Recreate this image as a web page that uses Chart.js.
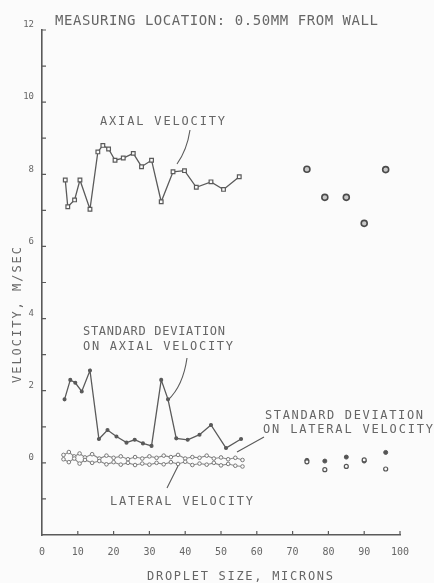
<!DOCTYPE html>
<html>
<head>
<meta charset="utf-8">
<script src="https://cdn.jsdelivr.net/npm/chart.js@4.4.0/dist/chart.umd.min.js"></script>
<style>
  html, body { margin: 0; padding: 0; background: #fbfbfb; }
  canvas { display: block; }
</style>
</head>
<body>
<canvas id="myChart" width="434" height="583"></canvas>
<script>
// values (droplet size in microns, velocity in m/sec)
const axialSizes = [6.5, 7.2, 9.1, 10.6, 13.4, 15.6, 17.0, 18.6, 20.4, 22.7, 25.5, 27.8, 30.6, 33.3, 36.6, 39.8, 43.1, 47.2, 50.7, 55.1]
const axialVel = [7.84, 7.10, 7.29, 7.84, 7.03, 8.62, 8.80, 8.70, 8.39, 8.45, 8.58, 8.21, 8.39, 7.24, 8.07, 8.10, 7.64, 7.79, 7.58, 7.93]

const stdAxialSizes = [6.3, 7.9, 9.3, 11.1, 13.4, 15.9, 18.3, 20.8, 23.6, 25.9, 28.2, 30.6, 33.3, 35.2, 37.5, 40.7, 44.0, 47.2, 51.4, 55.6]
const stdAxial = [1.76, 2.30, 2.22, 1.98, 2.56, 0.66, 0.91, 0.73, 0.56, 0.64, 0.54, 0.47, 2.30, 1.76, 0.68, 0.64, 0.78, 1.05, 0.41, 0.66]

const lateralSizes = [6, 7.5, 9, 10.5, 12, 14, 16, 18, 20, 22, 24, 26, 28, 30, 32, 34, 36, 38, 40, 42, 44, 46, 48, 50, 52, 54, 56]
const lateralVel = [0.10, 0.02, 0.12, -0.02, 0.08, 0.00, 0.05, -0.04, 0.02, -0.05, 0.00, -0.06, -0.02, -0.05, 0.00, -0.04, 0.02, -0.03, 0.03, -0.06, -0.02, -0.05, 0.00, -0.07, -0.03, -0.08, -0.10]
const stdLateral = [0.22, 0.30, 0.18, 0.26, 0.15, 0.24, 0.12, 0.20, 0.14, 0.18, 0.10, 0.16, 0.12, 0.18, 0.14, 0.20, 0.16, 0.22, 0.12, 0.16, 0.14, 0.20, 0.12, 0.15, 0.10, 0.14, 0.08]

// the separate points beyond 70 microns
const rightSizes = [74, 79, 85, 90, 96]
const rightAxial = [8.14, 7.36, 7.36, 6.64, 8.13]
const rightStdLateral = [0.07, 0.05, 0.16, 0.05, 0.29]
const rightLateral = [0.03, -0.19, -0.10, 0.08, -0.17]

const xTicks = [0, 10, 20, 30, 40, 50, 60, 70, 80, 90, 100]
const yLabels = [0, 2, 4, 6, 8, 10, 12]

const ink = "#5a5a5a"
const textInk = "#666666"
const mono = "'DejaVu Sans Mono', monospace"

const pts = (xs, ys) => xs.map((x, i) => ({ x: x, y: ys[i] }))

// draw a string stretched over a given width, like the plotter lettering
function spaced(ctx, text, x, y, width) {
  const w = ctx.measureText(text).width
  const sp = (width - w) / (text.length - 1)
  let cx = x
  for (const ch of text) {
    ctx.fillText(ch, cx, y)
    cx += ctx.measureText(ch).width + sp
  }
}

const notes = [
  ["MEASURING LOCATION: 0.50MM FROM WALL", 55, 21, 323, 14],
  ["AXIAL VELOCITY", 100, 122, 125, 12],
  ["STANDARD DEVIATION", 83, 332, 142, 12],
  ["ON AXIAL VELOCITY", 83, 347, 150, 12],
  ["STANDARD DEVIATION", 265, 416, 158, 12],
  ["ON LATERAL VELOCITY", 263, 430, 170, 12],
  ["LATERAL VELOCITY", 110, 502, 143, 12],
  ["DROPLET SIZE, MICRONS", 147, 577, 186, 12],
]

const decor = {
  id: "decor",
  afterDraw(chart) {
    const ctx = chart.ctx
    const xs = chart.scales.x
    const ys = chart.scales.y
    const a = chart.chartArea
    ctx.save()
    // inward tick marks
    ctx.strokeStyle = ink
    ctx.lineWidth = 1.2
    ctx.beginPath()
    for (let v = -1; v <= 12; v++) {
      const py = ys.getPixelForValue(v)
      ctx.moveTo(a.left, py)
      ctx.lineTo(a.left + 4, py)
    }
    for (let v = 10; v <= 100; v += 10) {
      const px = xs.getPixelForValue(v)
      ctx.moveTo(px, a.bottom)
      ctx.lineTo(px, a.bottom - 4)
    }
    ctx.stroke()

    // leader lines
    ctx.lineWidth = 1.1
    ctx.beginPath()
    ctx.moveTo(190, 130); ctx.quadraticCurveTo(187, 150, 177, 164)
    ctx.moveTo(187, 358); ctx.quadraticCurveTo(183, 386, 168, 400)
    ctx.moveTo(264, 437); ctx.lineTo(237, 452)
    ctx.moveTo(178, 466); ctx.lineTo(167, 488)
    ctx.stroke()

    // lettering
    ctx.fillStyle = textInk
    ctx.textBaseline = "middle"
    ctx.textAlign = "left"
    for (const n of notes) {
      ctx.font = n[4] + "px " + mono
      spaced(ctx, n[0], n[1], n[2], n[3])
    }
    ctx.translate(18, 383)
    ctx.rotate(-Math.PI / 2)
    ctx.font = "12px " + mono
    spaced(ctx, "VELOCITY, M/SEC", 0, 0, 136)
    ctx.restore()
  },
}

const ctx = document.getElementById("myChart").getContext("2d")
const myChart = new Chart(ctx, {
  type: "scatter",
  data: {
    datasets: [
      {
        label: "Axial velocity",
        data: pts(axialSizes, axialVel),
        showLine: true,
        borderColor: ink,
        borderWidth: 1.3,
        pointStyle: "rect",
        pointRadius: 2.6,
        pointBackgroundColor: "#fbfbfb",
        pointBorderColor: ink,
        pointBorderWidth: 1.2,
      },
      {
        label: "Axial velocity (large drops)",
        data: pts(rightSizes, rightAxial),
        showLine: false,
        pointStyle: "circle",
        pointRadius: 3,
        pointBackgroundColor: "#c8c8c8",
        pointBorderColor: "#4a4a4a",
        pointBorderWidth: 1.6,
      },
      {
        label: "Standard deviation on axial velocity",
        data: pts(stdAxialSizes, stdAxial),
        showLine: true,
        borderColor: ink,
        borderWidth: 1.3,
        pointRadius: 1.4,
        pointBackgroundColor: ink,
        pointBorderColor: ink,
      },
      {
        label: "Lateral velocity",
        data: pts(lateralSizes, lateralVel),
        showLine: true,
        borderColor: "#8a8a8a",
        borderWidth: 1.1,
        pointRadius: 1.8,
        pointBackgroundColor: "#fbfbfb",
        pointBorderColor: "#777",
        pointBorderWidth: 1,
      },
      {
        label: "Standard deviation on lateral velocity",
        data: pts(lateralSizes, stdLateral),
        showLine: true,
        borderColor: "#8a8a8a",
        borderWidth: 1.1,
        pointRadius: 1.8,
        pointBackgroundColor: "#fbfbfb",
        pointBorderColor: "#777",
        pointBorderWidth: 1,
      },
      {
        label: "Lateral velocity (large drops)",
        data: pts(rightSizes, rightLateral),
        showLine: false,
        pointRadius: 2,
        pointBackgroundColor: "#fbfbfb",
        pointBorderColor: "#555",
        pointBorderWidth: 1.2,
      },
      {
        label: "Std dev lateral (large drops)",
        data: pts(rightSizes, rightStdLateral),
        showLine: false,
        pointRadius: 2,
        pointBackgroundColor: "#555",
        pointBorderColor: "#555",
        pointBorderWidth: 1,
      },
    ],
  },
  options: {
    responsive: false,
    animation: false,
    devicePixelRatio: 1,
    layout: { padding: { top: 30, right: 34, left: 0, bottom: 0 } },
    plugins: { legend: { display: false }, tooltip: { enabled: false } },
    scales: {
      x: {
        type: "linear",
        min: 0,
        max: 100,
        afterBuildTicks: (s) => { s.ticks = xTicks.map((v) => ({ value: v })) },
        afterFit: (s) => { s.height = 48 },
        grid: { display: true, drawOnChartArea: false, drawTicks: false },
        border: { display: true, color: ink, width: 1.6 },
        ticks: { color: textInk, font: { family: mono, size: 10 }, padding: 11, maxRotation: 0 },
      },
      y: {
        type: "linear",
        min: -2,
        max: 12,
        afterBuildTicks: (s) => { s.ticks = yLabels.map((v) => ({ value: v })) },
        afterFit: (s) => { s.width = 42 },
        grid: { display: true, drawOnChartArea: false, drawTicks: false },
        border: { display: true, color: ink, width: 1.6 },
        ticks: { color: textInk, font: { family: mono, size: 9 }, padding: 8, labelOffset: -5 },
      },
    },
  },
  plugins: [decor],
})
</script>
</body>
</html>
